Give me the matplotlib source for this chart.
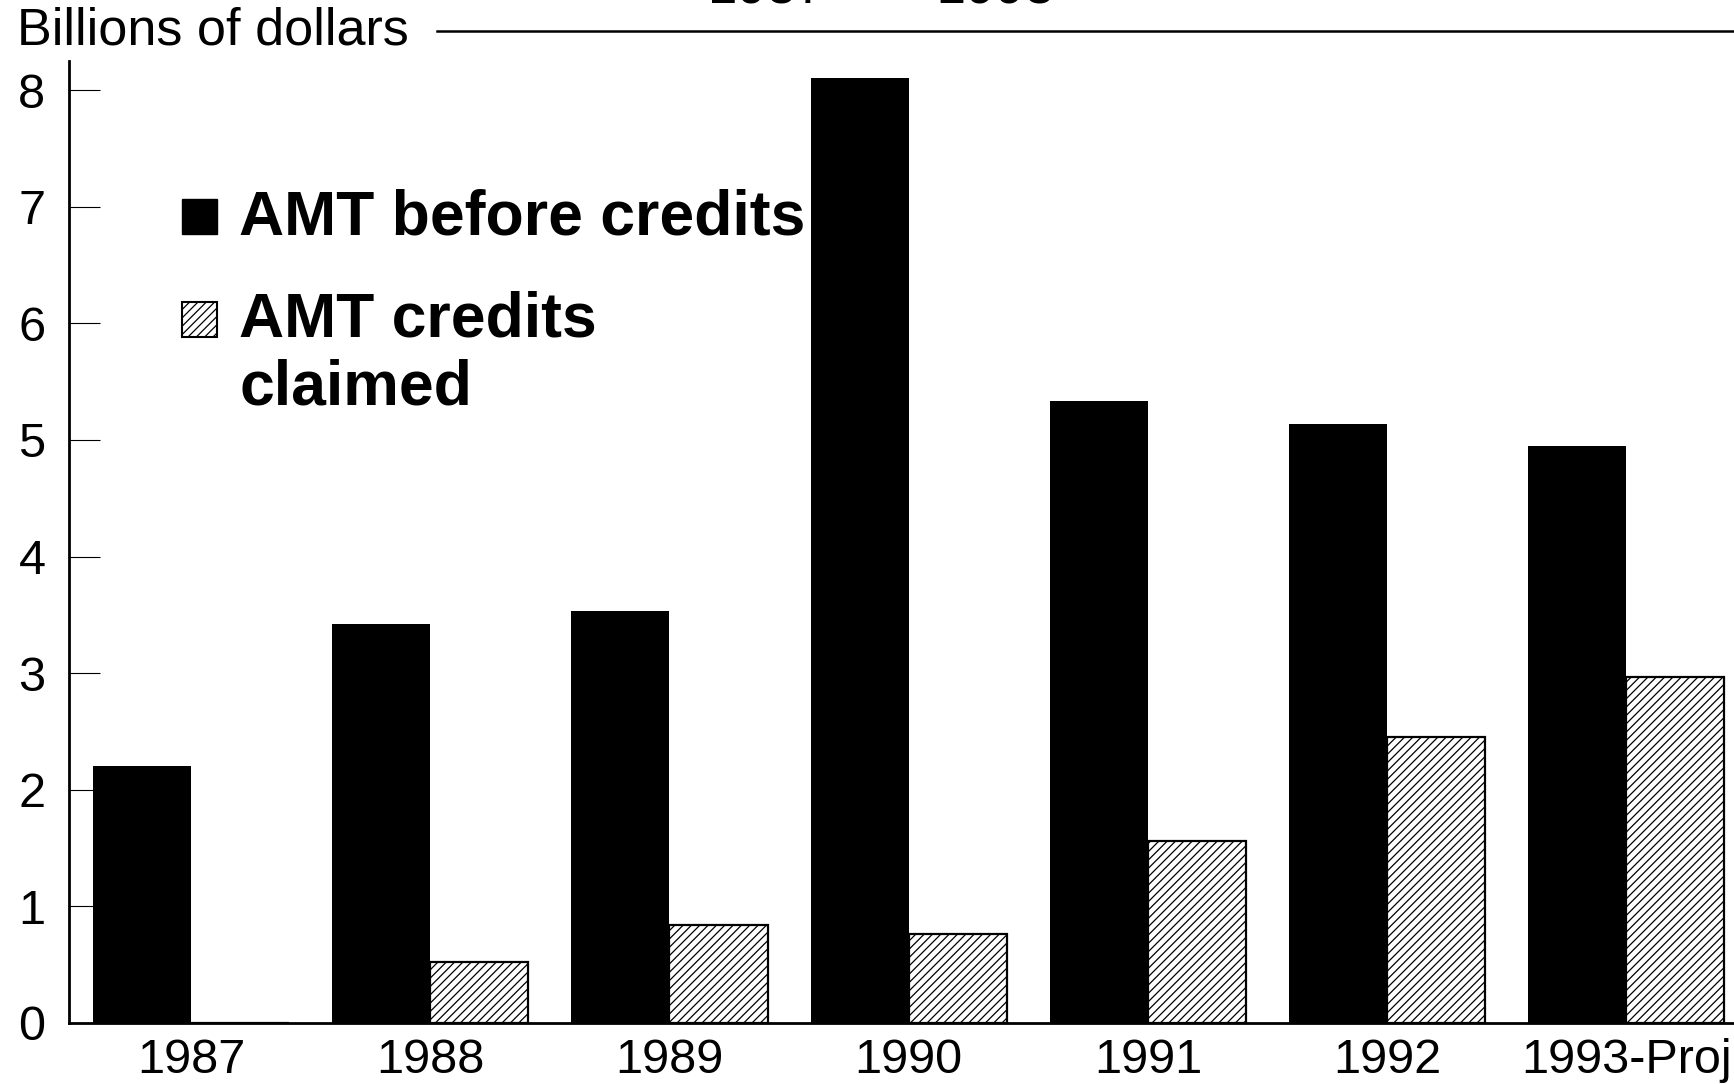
import numpy as np
import matplotlib.pyplot as plt
from matplotlib.patches import Rectangle

plt.rcParams['font.family'] = ['Liberation Sans', 'DejaVu Sans']
plt.rcParams['hatch.linewidth'] = 0.9

# Data (billions of dollars)
years = ['1987', '1988', '1989', '1990', '1991', '1992', '1993-Proj']
amt_before = [2.2, 3.42, 3.53, 8.1, 5.33, 5.14, 4.95]
amt_credits = [0.0, 0.52, 0.84, 0.76, 1.56, 2.45, 2.97]

W, H = 1734, 1084
fig = plt.figure(figsize=(W / 100, H / 100), dpi=100)
ax = fig.add_axes([69 / W, 61 / H, 1 - 69 / W, (1023 - 61) / H])

x = np.arange(len(years))
bw = 0.41
ax.bar(x - bw / 2, amt_before, bw, color='black', edgecolor='black', linewidth=0)
ax.bar(x + bw / 2, amt_credits, bw, color='white', edgecolor='black',
       hatch='////', linewidth=1.6)

ax.set_xlim(-0.51, 6.45)
ax.set_ylim(0, 8.25)
ax.set_yticks(range(0, 9))
ax.set_xticks(x)
ax.set_xticklabels(years, fontsize=35)
ax.tick_params(axis='y', direction='in', length=22, width=0.8, labelsize=35, pad=17)
ax.tick_params(axis='x', length=0, pad=11)
for s in ['top', 'right']:
    ax.spines[s].set_visible(False)
ax.spines['left'].set_linewidth(2)
ax.spines['bottom'].set_linewidth(2)

# header text and rule
fig.text(17 / W, 1 - 31 / H, 'Billions of dollars', fontsize=37.5, va='center', ha='left')
fig.add_artist(plt.Line2D([437 / W, 1.0], [1 - 31 / H, 1 - 31 / H], color='black', lw=1.8))
fig.text(881 / W, 1 - 4 / H, '1987  \u2014  1993', fontsize=38, ha='center', va='baseline')

# legend
fig.add_artist(Rectangle((182 / W, 1 - 234 / H), 35 / W, 35 / H, transform=fig.transFigure,
                         facecolor='black', edgecolor='black'))
fig.add_artist(Rectangle((182 / W, 1 - 337 / H), 35 / W, 35 / H, transform=fig.transFigure,
                         facecolor='white', edgecolor='black', hatch='////', lw=1.5))
fig.text(239 / W, 1 - 218 / H, 'AMT before credits', fontsize=45, fontweight='bold',
         va='center', ha='left')
fig.text(239 / W, 1 - 320 / H, 'AMT credits', fontsize=45, fontweight='bold',
         va='center', ha='left')
fig.text(239 / W, 1 - 388 / H, 'claimed', fontsize=45, fontweight='bold',
         va='center', ha='left')

fig.savefig('out.png', dpi=100, facecolor='white')
